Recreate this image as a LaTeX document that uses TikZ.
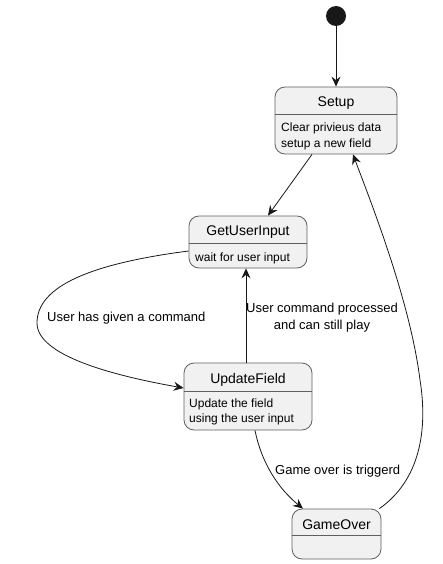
\documentclass[tikz,border=0pt]{standalone}
\usepackage{fontspec}
\setmainfont{Liberation Sans}
\usetikzlibrary{arrows.meta, positioning}
\definecolor{statefill}{HTML}{F1F1F1}
\definecolor{stateline}{HTML}{5F5F5F}
\definecolor{ink}{HTML}{181818}
\tikzstyle{state} = [rectangle, rounded corners=10pt, draw=stateline, fill=statefill, line width=0.8pt, inner sep=0pt]
\tikzstyle{divider} = [draw=stateline, line width=0.8pt]
\tikzstyle{statetitle} = [font=\fontsize{14}{16}\selectfont, inner sep=0pt]
\tikzstyle{statetext} = [font=\fontsize{12}{15.5}\selectfont, align=left, anchor=west, inner sep=0pt]
\tikzstyle{edgelabel} = [font=\fontsize{13}{17}\selectfont, inner sep=0pt]
\tikzstyle{arrow} = [draw=ink, line width=0.8pt, -{Stealth[length=10pt,width=9pt,inset=3.5pt]}]
\begin{document}
\begin{tikzpicture}[x=1pt, y=-1pt]
\useasboundingbox (0,0) rectangle (443,564);
\node (start) [circle, fill=ink, minimum size=20pt, inner sep=0pt] at (336,16) {};
\node (setup) [state, minimum width=122pt, minimum height=67pt] at (336,120.5) {};
\node (getinput) [state, minimum width=118pt, minimum height=52pt] at (248,242) {};
\node (update) [state, minimum width=128pt, minimum height=67pt] at (248,396.5) {};
\node (gameover) [state, minimum width=89pt, minimum height=50pt] at (336.5,534) {};
\draw [divider] (setup.west |- 0,114) -- (setup.east |- 0,114);
\draw [divider] (getinput.west |- 0,243) -- (getinput.east |- 0,243);
\draw [divider] (update.west |- 0,391) -- (update.east |- 0,391);
\draw [divider] (gameover.west |- 0,535) -- (gameover.east |- 0,535);
\node (setuptitle) [statetitle] at (336,103) {Setup};
\node (setuptext) [statetext] at (281,136.5) {Clear privieus data\\setup a new field};
\node (getinputtitle) [statetitle] at (248,232) {GetUserInput};
\node (getinputtext) [statetext] at (195,258) {wait for user input};
\node (updatetitle) [statetitle] at (248,379.5) {UpdateField};
\node (updatetext) [statetext] at (189,412) {Update the field\\using the user input};
\node (gameovertitle) [statetitle] at (336.5,525) {GameOver};
\node (cmdlabel) [edgelabel, anchor=west] at (47,318) {User has given a command};
\node (playlabel) [edgelabel, align=center] at (322,318) {User command processed\\and can still play};
\node (overlabel) [edgelabel, anchor=west] at (275,471) {Game over is triggerd};
\draw [arrow] (start) -- (setup);
\draw [arrow] ([xshift=-24pt]setup.south) -- ([xshift=20pt]getinput.north);
\draw [arrow] ([yshift=-9pt]getinput.west) .. controls (80,265) and (37,290) .. (37,323) .. controls (37,355) and (110,375) .. ([yshift=8.5pt]update.west);
\draw [arrow] ([xshift=-2pt]update.north) -- ([xshift=-2pt]getinput.south);
\draw [arrow] ([xshift=7pt]update.south) .. controls (262,465) and (280,490) .. ([xshift=-33.5pt]gameover.north);
\draw [arrow] ([xshift=-2pt]gameover.north east) .. controls (420,480) and (428,430) .. (420,380) .. controls (410,300) and (370,200) .. ([xshift=17pt]setup.south);
\end{tikzpicture}
\end{document}
